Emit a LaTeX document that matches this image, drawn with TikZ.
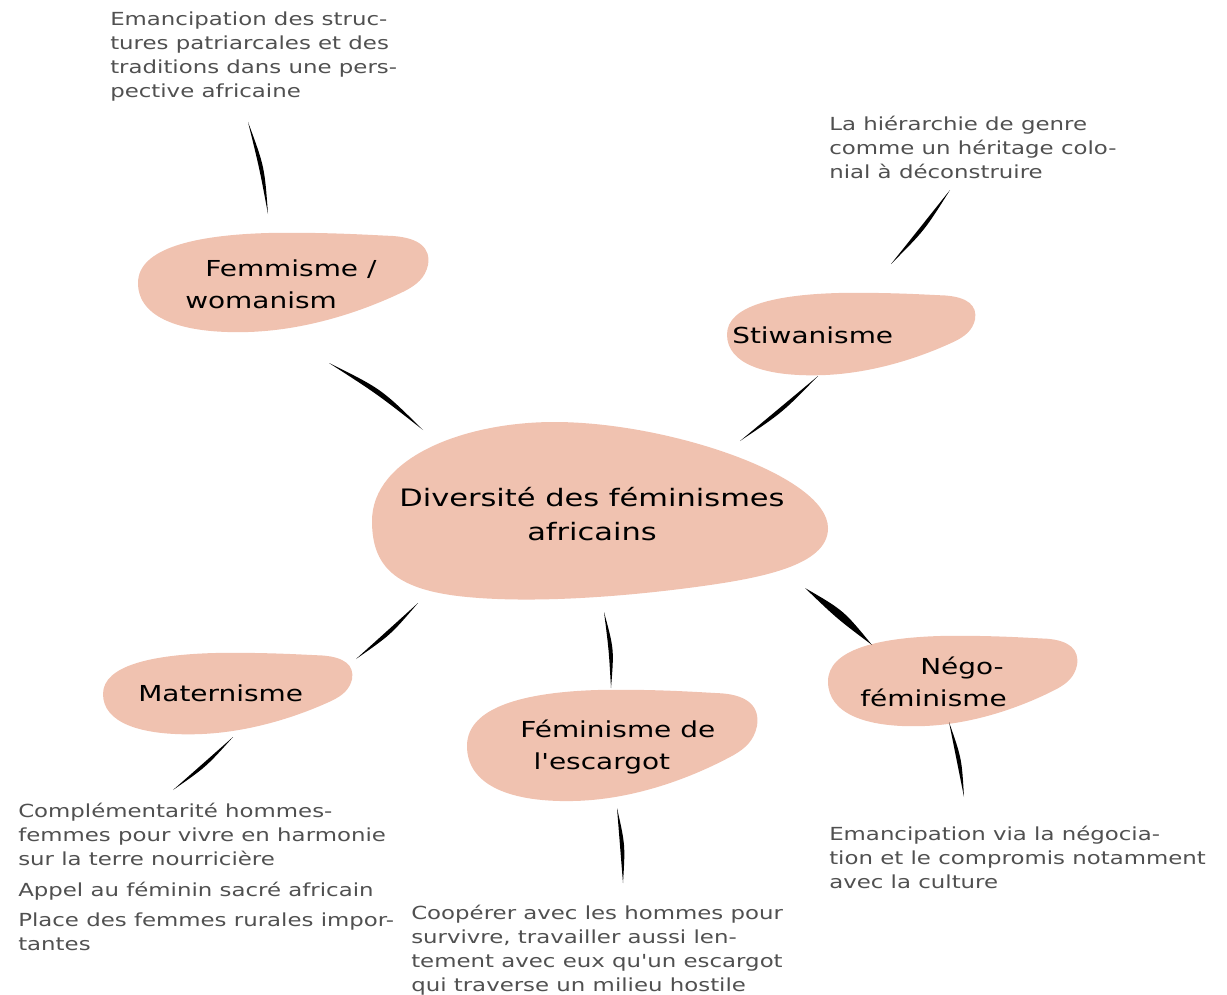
\documentclass[tikz,border=0pt]{standalone}
\usepackage{fontspec}
\setmainfont{DejaVu Sans}[FakeStretch=1.27, Ligatures=TeXOff]
\usetikzlibrary{calc}
\definecolor{blobfill}{RGB}{240,194,176}
\definecolor{notegray}{RGB}{80,80,80}
\tikzset{
 blob/.style={fill=blobfill, draw=none},
 centertext/.style={font=\fontsize{18}{25}\selectfont, text=black, align=center, inner sep=0},
 blobtext/.style={font=\fontsize{16.5}{24}\selectfont, text=black, align=left, inner sep=0, anchor=west},
 notetext/.style={font=\fontsize{13.5}{18}\selectfont, text=notegray, align=left, inner sep=0, anchor=west},
 brushfill/.style={fill=black, draw=none},
}
\newcommand\brushstroke[4]{\fill[brushfill] (#1) .. controls ($(#1)!0.5!(#2)!#3!90:(#2)$) .. (#2) .. controls ($(#1)!0.5!(#2)!#4!90:(#2)$) .. (#1);}
\newcommand\smallblob[4]{%
\begin{scope}[shift={(#1,#2)}, x={(#3*0.75pt,0pt)}, y={(0pt,-#4*0.75pt)}]
\fill[blob] (0,0.5) .. controls (0,0.15) and (0.2,0.02) .. (0.45,0.0)
 .. controls (0.65,-0.01) and (0.8,0.02) .. (0.88,0.03)
 .. controls (0.97,0.05) and (1.01,0.15) .. (1.0,0.32)
 .. controls (0.99,0.45) and (0.96,0.52) .. (0.92,0.58)
 .. controls (0.8,0.75) and (0.6,0.97) .. (0.38,0.99)
 .. controls (0.15,1.01) and (0,0.85) .. (0,0.5) -- cycle;
\end{scope}}
\begin{document}
\begin{tikzpicture}[x=0.75pt,y=-0.75pt]
\useasboundingbox (0,0) rectangle (1227,995);
% central blob
\begin{scope}[shift={(372,422)}, x={(456*0.75pt,0pt)}, y={(0pt,-180*0.75pt)}]
\fill[blob] (0,0.55) .. controls (0,0.2) and (0.2,0.0) .. (0.4,0.0)
 .. controls (0.65,0.0) and (1.0,0.3) .. (1.0,0.59)
 .. controls (1.0,0.8) and (0.85,0.87) .. (0.7,0.92)
 .. controls (0.55,0.97) and (0.35,1.01) .. (0.2,0.97)
 .. controls (0.05,0.93) and (0,0.8) .. (0,0.55) -- cycle;
\end{scope}
\smallblob{138}{233}{290}{100}
\smallblob{727}{293}{248}{83}
\smallblob{103}{653}{249}{82}
\smallblob{467}{690}{290}{112}
\smallblob{828}{636}{249}{91}

% text in blobs
\node[centertext] (center) at (592,514) {Diversité des féminismes\\africains};
\node[blobtext] (femm) at (185,284) {\hspace*{15pt}Femmisme /\\womanism};
\node[blobtext] (stiw) at (732,335) {Stiwanisme};
\node[blobtext] (mater) at (138,693) {Maternisme};
\node[blobtext] (escar) at (520,747) {Féminisme de\\\hspace*{10pt}l'escargot};
\node[blobtext] (nego) at (860,682) {\hspace*{45pt}Négo-\\féminisme};

% notes
\node[notetext] (nfemm) at (110,57) {Emancipation des struc-\\tures patriarcales et des\\traditions dans une pers-\\pective africaine};
\node[notetext] (nstiw) at (829,147) {La hiérarchie de genre\\comme un héritage colo-\\nial à déconstruire};
\node[notetext] (nmater) at (18,877) {Complémentarité hommes-\\femmes pour vivre en harmonie\\sur la terre nourricière\\[5pt]Appel au féminin sacré africain\\[5pt]Place des femmes rurales impor-\\tantes};
\node[notetext] (nescar) at (411,950) {Coopérer avec les hommes pour\\survivre, travailler aussi len-\\tement avec eux qu'un escargot\\qui traverse un milieu hostile};
\node[notetext] (nnego) at (829,857) {Emancipation via la négocia-\\tion et le compromis notamment\\avec la culture};

% connector end points
\coordinate (c1a) at (329,363); \coordinate (c1b) at (423,430);
\coordinate (c2a) at (818,376); \coordinate (c2b) at (740,441);
\coordinate (c3a) at (418,603); \coordinate (c3b) at (356,659);
\coordinate (c4a) at (604,612); \coordinate (c4b) at (611,688);
\coordinate (c5a) at (805,588); \coordinate (c5b) at (872,645);
\coordinate (n1a) at (248,122); \coordinate (n1b) at (268,214);
\coordinate (n2a) at (950,190); \coordinate (n2b) at (891,264);
\coordinate (n3a) at (233,737); \coordinate (n3b) at (173,790);
\coordinate (n4a) at (617,808); \coordinate (n4b) at (623,883);
\coordinate (n5a) at (949,722); \coordinate (n5b) at (964,797);

\brushstroke{c1a}{c1b}{7pt}{2pt}
\brushstroke{c2a}{c2b}{4pt}{0pt}
\brushstroke{c3a}{c3b}{4pt}{0pt}
\brushstroke{c4a}{c4b}{5pt}{1pt}
\brushstroke{c5a}{c5b}{6pt}{-2pt}
\brushstroke{n1a}{n1b}{5pt}{1pt}
\brushstroke{n2a}{n2b}{4pt}{0pt}
\brushstroke{n3a}{n3b}{3.5pt}{0pt}
\brushstroke{n4a}{n4b}{4pt}{0pt}
\brushstroke{n5a}{n5b}{4pt}{0pt}
\end{tikzpicture}
\end{document}
